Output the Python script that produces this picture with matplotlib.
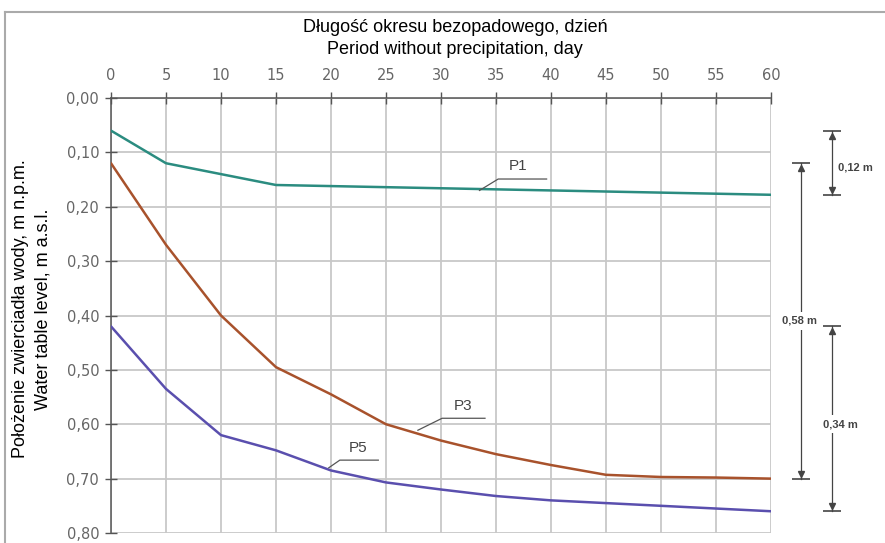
import numpy as np
import matplotlib
matplotlib.use("Agg")
import matplotlib.pyplot as plt
from matplotlib.ticker import FuncFormatter
from matplotlib.lines import Line2D

# days without precipitation
days = [0, 5, 10, 15, 20, 25, 30, 35, 40, 45, 50, 55, 60]

# water table level, m
p1 = [0.06, 0.12, 0.14, 0.16, 0.162, 0.164, 0.166, 0.168, 0.170, 0.172, 0.174, 0.176, 0.178]
p3 = [0.12, 0.27, 0.40, 0.495, 0.545, 0.60, 0.63, 0.655, 0.675, 0.693, 0.697, 0.698, 0.70]
p5 = [0.42, 0.535, 0.62, 0.648, 0.685, 0.707, 0.72, 0.732, 0.74, 0.745, 0.75, 0.755, 0.76]

series_names = ["P1", "P3", "P5"]
series_colors = ["#2b8c80", "#a8522c", "#5a4fae"]

# labels: (point on curve, elbow, end of shelf, text position)
label_leaders = {
    "P1": [(33.5, 0.170), (35.2, 0.149), (39.6, 0.149), (37.0, 0.125)],
    "P3": [(27.9, 0.611), (30.1, 0.589), (34.0, 0.589), (32.0, 0.566)],
    "P5": [(19.8, 0.680), (20.8, 0.666), (24.3, 0.666), (22.5, 0.643)],
}

plt.rcParams['font.family'] = ['Liberation Sans', 'DejaVu Sans']

fig = plt.figure(figsize=(8.85, 5.43), dpi=100)
ax = fig.add_axes([111 / 885, 10 / 543, 660 / 885, 435 / 543])

for vals, name, col in zip([p1, p3, p5], series_names, series_colors):
    ax.plot(days, vals, color=col, lw=1.8, zorder=3, solid_capstyle='round')

# leader lines + curve labels
for name in series_names:
    pts = label_leaders[name]
    xs = [p[0] for p in pts[:3]]
    ys = [p[1] for p in pts[:3]]
    ax.plot(xs, ys, color='#555555', lw=0.9, zorder=4)
    ax.text(pts[3][0], pts[3][1], name, fontsize=11, color='#444444',
            ha='center', va='center', zorder=5)

ax.set_xlim(0, 60)
ax.set_ylim(0.80, 0.0)
ax.set_xticks(np.arange(0, 61, 5))
ax.set_yticks(np.arange(0, 0.81, 0.1))
ax.yaxis.set_major_formatter(FuncFormatter(lambda v, p: f"{v:.2f}".replace('.', ',')))
ax.xaxis.tick_top()
ax.tick_params(axis='both', direction='inout', length=9, width=1, color='#555555',
               labelcolor='#666666', labelsize=10.5)
ax.tick_params(axis='x', pad=6)
ax.tick_params(axis='y', pad=4)
for lbl in ax.get_xticklabels() + ax.get_yticklabels():
    lbl.set_family('DejaVu Sans')

ax.grid(True, color='#c8c8c8', lw=1.3)
ax.set_axisbelow(True)
for s in ['right', 'bottom']:
    ax.spines[s].set_visible(False)
for s in ['top', 'left']:
    ax.spines[s].set_color('#555555')
    ax.spines[s].set_linewidth(1.1)

fig.text(455 / 885, 1 - 28 / 543, "Długość okresu bezopadowego, dzień",
         ha='center', va='center', fontsize=13)
fig.text(455 / 885, 1 - 50 / 543, "Period without precipitation, day",
         ha='center', va='center', fontsize=13)
fig.text(21 / 885, 1 - 309 / 543, "Położenie zwierciadła wody, m n.p.m.",
         ha='center', va='center', fontsize=13, rotation=90)
fig.text(43 / 885, 1 - 309 / 543, "Water table level, m a.s.l.",
         ha='center', va='center', fontsize=13, rotation=90)


def dim_line(x, y0, y1, label, tx, ty, ha='center', box=False):
    dy = 0.009
    kw = dict(clip_on=False, color='#444444', zorder=6)
    ax.plot([x, x], [y0, y1], lw=0.9, **kw)
    ax.plot([x], [y0], marker='_', ms=13, mew=1.2, **kw)
    ax.plot([x], [y1], marker='_', ms=13, mew=1.2, **kw)
    ax.plot([x], [y0 + dy], marker='^', ms=5, lw=0, **kw)
    ax.plot([x], [y1 - dy], marker='v', ms=5, lw=0, **kw)
    bbox = dict(facecolor='white', edgecolor='none', pad=3) if box else None
    ax.text(tx, ty, label, ha=ha, va='center', fontsize=8, fontweight='bold',
            color='#444444', bbox=bbox, clip_on=False, zorder=7)


dim_line(65.5, p1[0], p1[-1], "0,12 m", 66.1, 0.128, ha='left')
dim_line(62.7, p3[0], p3[-1], "0,58 m", 62.6, 0.41, box=True)
dim_line(65.5, p5[0], p5[-1], "0,34 m", 66.3, 0.60, box=True)

# outer frame
fig.add_artist(Line2D([5 / 885, 1], [1 - 12 / 543] * 2, color='#aaaaaa', lw=1.5))
fig.add_artist(Line2D([5 / 885] * 2, [0, 1 - 12 / 543], color='#aaaaaa', lw=1.5))

fig.savefig("out.png", dpi=100)
